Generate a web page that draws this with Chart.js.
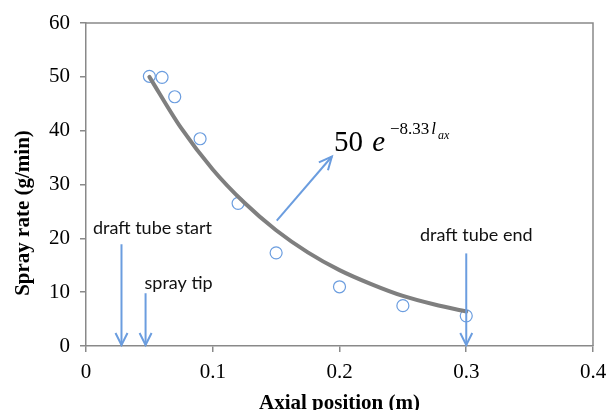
<!DOCTYPE html>
<html>
<head>
<meta charset="utf-8">
<script src="https://cdn.jsdelivr.net/npm/chart.js@4/dist/chart.umd.min.js"></script>
<style>
  html, body { margin: 0; padding: 0; background: #ffffff; }
  #wrap { width: 608px; height: 410px; position: relative; }
</style>
</head>
<body>
<div id="wrap"><canvas id="c" width="608" height="410"></canvas></div>
<script>
// Measured spray rate along the axial position
const axialPositions = [0.05, 0.06, 0.07, 0.09, 0.12, 0.15, 0.20, 0.25, 0.30];
const sprayRates     = [50.1, 49.9, 46.3, 38.5, 26.5, 17.3, 11.0, 7.5, 5.6];

// Exponential fit curve, sampled along the same axis
const fitPositions = [0.05, 0.075, 0.10, 0.125, 0.15, 0.175, 0.20, 0.225, 0.25, 0.275, 0.30];
const fitRates     = [50.0, 40.5, 32.8, 26.6, 21.5, 17.4, 14.1, 11.5, 9.3, 7.7, 6.4];

// Axis ticks
const xTicks = [0, 0.1, 0.2, 0.3, 0.4];
const yTicks = [0, 10, 20, 30, 40, 50, 60];

// Marker arrows: label, axial position, arrow top (g/min)
const markerLabels    = ['draft tube start', 'spray tip', 'draft tube end'];
const markerPositions = [0.028, 0.047, 0.30];
const markerTops      = [18.9, 9.8, 17.2];

const BLUE = '#6b9ddf';
const GRAY = '#7f7f7f';
const FRAME = '#898989';

function arrowHead(ctx, x1, y1, x2, y2, len, half) {
  const ang = Math.atan2(y2 - y1, x2 - x1);
  const bx = x2 - len * Math.cos(ang), by = y2 - len * Math.sin(ang);
  const nx = -Math.sin(ang) * half, ny = Math.cos(ang) * half;
  ctx.beginPath();
  ctx.moveTo(bx + nx, by + ny);
  ctx.lineTo(x2, y2);
  ctx.lineTo(bx - nx, by - ny);
  ctx.stroke();
}

const decorations = {
  id: 'decorations',
  afterDatasetsDraw(chart) {
    const { ctx, chartArea: a, scales: { x, y } } = chart;
    ctx.save();

    // top and right frame edges
    ctx.strokeStyle = FRAME;
    ctx.lineWidth = 1.5;
    ctx.beginPath();
    ctx.moveTo(a.left, a.top);
    ctx.lineTo(a.right, a.top);
    ctx.lineTo(a.right, a.bottom);
    ctx.stroke();

    // vertical marker arrows with their labels
    ctx.strokeStyle = BLUE;
    ctx.lineWidth = 2;
    ctx.lineCap = 'butt';
    ctx.font = '18px Lato, "Open Sans", sans-serif';
    ctx.fillStyle = '#111111';
    ctx.textBaseline = 'alphabetic';
    ctx.textAlign = 'center';
    const labelDx = [31, 33, 10];
    const labelGap = [10, 4, 12];
    markerLabels.forEach((txt, i) => {
      const px = x.getPixelForValue(markerPositions[i]);
      const top = y.getPixelForValue(markerTops[i]);
      const bottom = y.getPixelForValue(0);
      ctx.beginPath();
      ctx.moveTo(px, top);
      ctx.lineTo(px, bottom - 1);
      ctx.stroke();
      arrowHead(ctx, px, top, px, bottom - 1, 12, 6);
      ctx.fillText(txt, px + labelDx[i], top - labelGap[i]);
    });

    // diagonal arrow pointing at the fit expression
    const tx = x.getPixelForValue(0.1505), ty = y.getPixelForValue(23.3);
    const hx = x.getPixelForValue(0.194), hy = y.getPixelForValue(35.2);
    ctx.beginPath();
    ctx.moveTo(tx, ty);
    ctx.lineTo(hx, hy);
    ctx.stroke();
    arrowHead(ctx, tx, ty, hx, hy, 13, 6);

    // fit expression: 50 e^(-8.33 l_ax)
    ctx.textAlign = 'left';
    let cx = hx + 2, base = hy - 6;
    ctx.fillStyle = '#000000';
    ctx.font = '29px "Liberation Serif", serif';
    ctx.fillText('50', cx, base);
    cx += ctx.measureText('50 ').width + 2;
    ctx.font = 'italic 29px "Liberation Serif", serif';
    ctx.fillText('e', cx, base);
    cx += ctx.measureText('e').width + 5;
    ctx.font = '17px "Liberation Serif", serif';
    ctx.fillText('\u22128.33', cx, base - 17);
    cx += ctx.measureText('\u22128.33').width + 2;
    ctx.font = 'italic 17px "Liberation Serif", serif';
    ctx.fillText('l', cx, base - 17);
    cx += ctx.measureText('l').width + 2;
    ctx.font = 'italic 12px "Liberation Serif", serif';
    ctx.fillText('ax', cx, base - 12);

    // axis titles
    ctx.fillStyle = '#000000';
    ctx.font = 'bold 21px "Liberation Serif", serif';
    ctx.textAlign = 'center';
    ctx.textBaseline = 'alphabetic';
    ctx.fillText('Axial position (m)', (a.left + a.right) / 2, 409);
    ctx.translate(29, 213);
    ctx.rotate(-Math.PI / 2);
    ctx.fillText('Spray rate (g/min)', 0, 0);

    ctx.restore();
  }
};

new Chart(document.getElementById('c'), {
  type: 'scatter',
  data: {
    datasets: [
      {
        type: 'line',
        label: 'fit',
        data: fitPositions.map((v, i) => ({ x: v, y: fitRates[i] })),
        borderColor: GRAY,
        borderWidth: 4,
        borderCapStyle: 'round',
        pointRadius: 0,
        fill: false,
        cubicInterpolationMode: 'monotone',
        order: 0
      },
      {
        label: 'measured',
        data: axialPositions.map((v, i) => ({ x: v, y: sprayRates[i] })),
        pointStyle: 'circle',
        pointRadius: 6,
        borderColor: BLUE,
        borderWidth: 1.2,
        backgroundColor: 'rgba(0,0,0,0)',
        showLine: false,
        order: 1
      }
    ]
  },
  options: {
    responsive: false,
    animation: false,
    devicePixelRatio: 1,
    layout: { padding: { top: 23, right: 15, left: 0, bottom: 0 } },
    plugins: { legend: { display: false }, tooltip: { enabled: false } },
    scales: {
      x: {
        type: 'linear',
        min: 0, max: 0.4,
        afterBuildTicks: s => { s.ticks = xTicks.map(v => ({ value: v })); },
        afterFit: s => { s.height = 64; s.paddingLeft = 0; s.paddingRight = 0; },
        ticks: {
          color: '#000000',
          font: { family: '"Liberation Serif", serif', size: 21 },
          padding: 8,
          callback: v => String(v)
        },
        grid: { drawOnChartArea: false, drawTicks: true, tickLength: 6, color: FRAME, lineWidth: 1.5 },
        border: { color: FRAME, width: 1.5 }
      },
      y: {
        type: 'linear',
        min: 0, max: 60,
        afterBuildTicks: s => { s.ticks = yTicks.map(v => ({ value: v })); },
        afterFit: s => { s.width = 86; s.paddingTop = 0; s.paddingBottom = 0; },
        ticks: {
          color: '#000000',
          font: { family: '"Liberation Serif", serif', size: 21 },
          padding: 10,
          callback: v => String(v)
        },
        grid: { drawOnChartArea: false, drawTicks: true, tickLength: 6, color: FRAME, lineWidth: 1.5 },
        border: { color: FRAME, width: 1.5 }
      }
    }
  },
  plugins: [decorations]
});
</script>
</body>
</html>
